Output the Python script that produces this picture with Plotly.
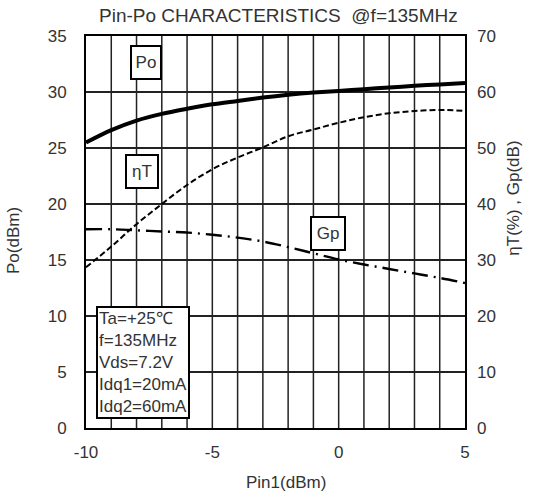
import plotly.graph_objects as go

pin = [-10, -9, -8, -7, -6, -5, -4, -3, -2, -1, 0, 1, 2, 3, 4, 5]
po = [25.5, 26.6, 27.45, 28.05, 28.5, 28.9, 29.2, 29.5, 29.75, 29.95, 30.1, 30.25, 30.4, 30.55, 30.68, 30.8]
eta = [28.7, 32.4, 36.4, 40.0, 43.4, 46.2, 48.3, 50.1, 52.1, 53.3, 54.5, 55.5, 56.2, 56.6, 56.8, 56.6]
gp = [35.5, 35.5, 35.3, 35.1, 34.9, 34.5, 34.0, 33.3, 32.3, 31.2, 30.1, 29.2, 28.4, 27.6, 26.8, 25.9]
x_ticks = [-10, -5, 0, 5]
x_ticktext = ["-10", "-5", "0", "5"]

FONT = "Liberation Sans, Arial, sans-serif"
TXT = "#333333"

fig = go.Figure()
fig.add_trace(go.Scatter(x=pin, y=po, mode="lines", line=dict(color="black", width=4, shape="spline", smoothing=0.8),
                         yaxis="y", showlegend=False))
fig.add_trace(go.Scatter(x=pin, y=eta, mode="lines", line=dict(color="black", width=2, dash="6px,3px", shape="spline"),
                         yaxis="y2", showlegend=False))
fig.add_trace(go.Scatter(x=pin, y=gp, mode="lines", line=dict(color="black", width=2.4, dash="16px,6px,2px,6px", shape="spline"),
                         yaxis="y2", showlegend=False))

fig.update_layout(
    width=534, height=495,
    margin=dict(l=86, r=69, t=36, b=67),
    paper_bgcolor="white", plot_bgcolor="white",
    font=dict(family=FONT, size=17, color=TXT),
    xaxis=dict(range=[-10, 5], tickvals=x_ticks, ticktext=x_ticktext, ticks="", showgrid=False,
               showline=True, linecolor="black", linewidth=2, mirror=True,
               zeroline=False, tickfont=dict(size=17, color=TXT), ticklabelstandoff=8),
    yaxis=dict(range=[0, 35], dtick=5, ticks="", showgrid=True, gridcolor="#222222", gridwidth=1.5,
               showline=True, linecolor="black", linewidth=2, mirror=True, zeroline=False,
               tickfont=dict(size=17, color=TXT), ticklabelstandoff=14),
    yaxis2=dict(range=[0, 70], dtick=10, overlaying="y", side="right", showgrid=False, zeroline=False,
                ticks="", tickfont=dict(size=17, color=TXT), ticklabelstandoff=11),
)

# vertical grid lines every 1 dBm drawn below traces
for xv in range(-9, 5):
    fig.add_shape(type="line", x0=xv, x1=xv, y0=0, y1=1, xref="x", yref="y domain",
                  line=dict(color="#222222", width=1.5), layer="below")

lab = dict(xref="paper", yref="paper", showarrow=False, xanchor="center", yanchor="middle")
fig.add_annotation(text="Pin-Po CHARACTERISTICS  @f=135MHz", x=0.509, y=1.0, yshift=21,
                   font=dict(size=19, color=TXT), **lab)
fig.add_annotation(text="Pin1(dBm)", x=0.5, xshift=10, y=0, yshift=-54,
                   font=dict(size=17, color=TXT), **lab)
fig.add_annotation(text="Po(dBm)", x=0, xshift=-73, y=0.477, textangle=-90,
                   font=dict(size=17, color=TXT), **lab)
fig.add_annotation(text="ηT(%) , Gp(dB)", x=1, xshift=49, y=0.585, textangle=-90,
                   font=dict(size=17, color=TXT), **lab)

box = dict(showarrow=False, bordercolor="black", borderwidth=2, bgcolor="white",
           font=dict(size=17, color=TXT))
fig.add_annotation(text="Po", x=-7.64, y=32.6, xref="x", yref="y", width=26, height=29, **box)
fig.add_annotation(text="ηT", x=-7.8, y=22.86, xref="x", yref="y", width=28, height=29, **box)
fig.add_annotation(text="Gp", x=-0.44, y=17.35, xref="x", yref="y", width=30, height=29, **box)
fig.add_annotation(text="Ta=+25℃<br>f=135MHz<br>Vds=7.2V<br>Idq1=20mA<br>Idq2=60mA",
                   x=-9.62, y=5.85, xref="x", yref="y", xanchor="left", align="left",
                   borderpad=1, showarrow=False, bordercolor="black", borderwidth=2, bgcolor="white",
                   font=dict(size=17, color=TXT))

fig.write_html("out.html")
